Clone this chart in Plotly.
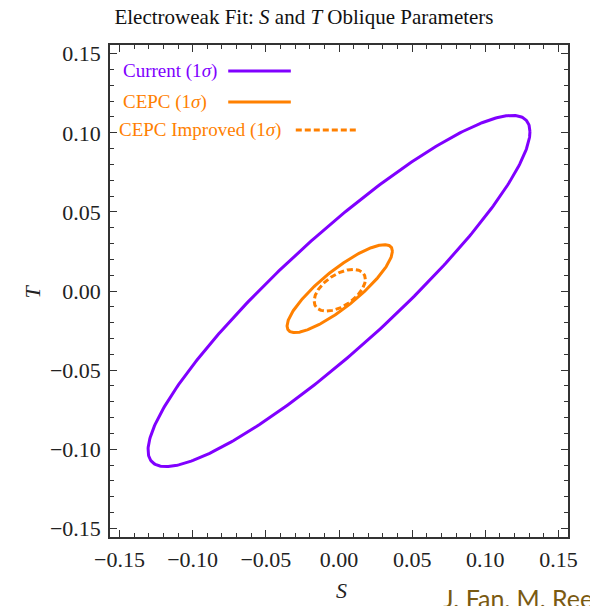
import numpy as np
import plotly.graph_objects as go

# Ellipse (1-sigma) descriptors
names = ["Current (1σ)", "CEPC (1σ)", "CEPC Improved (1σ)"]
center_S = [0.0, 0.0005, 0.0005]
center_T = [0.0, 0.0015, 0.0005]
half_S = [0.1305, 0.0360, 0.0175]
half_T = [0.1110, 0.0278, 0.0132]
rho = [0.907, 0.85, 0.52]
colors = ["#8000FF", "#FF8000", "#FF8000"]
dashes = ["solid", "solid", "6px,3px"]

tick_vals = [-0.15, -0.10, -0.05, 0.00, 0.05, 0.10, 0.15]
tick_text = ["\u22120.15", "\u22120.10", "\u22120.05", "0.00", "0.05", "0.10", "0.15"]

W, H = 590, 606
L, R, T, B = 110, 571, 45, 537

fig = go.Figure()
t = np.linspace(0, 2 * np.pi, 400)
for i in range(len(names)):
    phi = np.arccos(rho[i])
    s = center_S[i] + half_S[i] * np.cos(t)
    tt = center_T[i] + half_T[i] * np.cos(t - phi)
    fig.add_trace(go.Scatter(x=s, y=tt, mode="lines", name=names[i],
                             line=dict(color=colors[i], width=3, dash=dashes[i]),
                             showlegend=False, hoverinfo="skip"))

serif = "Liberation Serif"
axis_common = dict(
    showgrid=False, zeroline=False,
    showline=True, linecolor="#333", linewidth=1.5, mirror="ticks",
    ticks="inside", ticklen=7, tickwidth=1.2, tickcolor="#333",
    tickvals=tick_vals, ticktext=tick_text,
    tickfont=dict(family=serif, size=22, color="#222"),
    minor=dict(dtick=0.01, tick0=0, ticks="inside", ticklen=4, tickwidth=1, tickcolor="#333"),
)
fig.update_xaxes(range=[-0.1565, 0.1565], ticklabelstandoff=2, **axis_common)
fig.update_yaxes(range=[-0.1555, 0.1555], ticklabelstandoff=3, **axis_common)

def px(x):
    return (x - L) / (R - L)

def py(y):
    return (B - y) / (B - T)

ann = []
shapes = []
legend_rows = [
    (names[0], colors[0], 121, 71, 229, 292, "solid"),
    (names[1], colors[1], 121, 102, 229, 292, "solid"),
    (names[2], colors[2], 117, 130, 297, 358, "6px,3px"),
]
for txt, col, tx, ty, x0, x1, d in legend_rows:
    label = txt.replace("σ", "<i>σ</i>")
    ann.append(dict(x=px(tx), y=py(ty), xref="paper", yref="paper", text=label,
                    showarrow=False, xanchor="left", yanchor="middle",
                    font=dict(family=serif, size=19, color=col)))
    shapes.append(dict(type="line", xref="paper", yref="paper",
                       x0=px(x0), x1=px(x1), y0=py(ty), y1=py(ty),
                       line=dict(color=col, width=3, dash=d)))

# axis labels
ann.append(dict(x=px(343), y=py(590), xref="paper", yref="paper", text="<i>S</i>",
                showarrow=False, xanchor="center", yanchor="middle",
                font=dict(family=serif, size=22, color="#222")))
ann.append(dict(x=px(31), y=py(292), xref="paper", yref="paper", text="<i>T</i>",
                showarrow=False, xanchor="center", yanchor="middle", textangle=-90,
                font=dict(family=serif, size=22, color="#222")))
# credit (cut off at the page edge as in the source)
ann.append(dict(x=px(443), y=py(598), xref="paper", yref="paper", text="J. Fan, M. Reece",
                showarrow=False, xanchor="left", yanchor="middle",
                font=dict(family="Lato", size=25, color="#7a5a12")))

fig.update_layout(
    width=W, height=H,
    margin=dict(l=L, r=W - R, t=T, b=H - B),
    plot_bgcolor="white", paper_bgcolor="white",
    title=dict(text="Electroweak Fit: <i>S</i> and <i>T</i> Oblique Parameters",
               x=304 / W, xref="container", xanchor="center",
               y=1 - 17 / H, yref="container", yanchor="middle",
               font=dict(family=serif, size=21, color="#111")),
    annotations=ann, shapes=shapes,
)
fig.write_html("out.html")
